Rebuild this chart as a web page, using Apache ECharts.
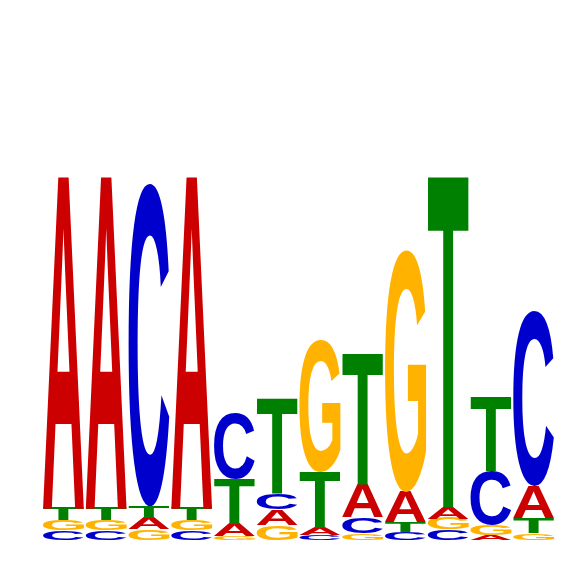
<!DOCTYPE html>
<html>
<head>
<meta charset="utf-8">
<script src="https://cdn.jsdelivr.net/npm/echarts@6/dist/echarts.min.js"></script>
<style>
html,body{margin:0;padding:0;background:#fff;}
#logo{width:566px;height:566px;}
</style>
</head>
<body>
<div id="logo"></div>
<script>
// positions of the motif
var positions = ['1','2','3','4','5','6','7','8','9','10','11','12'];
// letter heights (bits) per position
var bitsA = [1.819, 1.819, 0.062, 1.819, 0.066, 0.086, 0.038, 0.181, 0.165, 0.062, 0.027, 0.176];
var bitsC = [0.053, 0.053, 1.769, 0.053, 0.363, 0.090, 0.027, 0.088, 0.044, 0.058, 0.297, 0.962];
var bitsG = [0.055, 0.055, 0.058, 0.055, 0.022, 0.082, 0.720, 0.038, 1.324, 0.060, 0.055, 0.038];
var bitsT = [0.066, 0.066, 0.064, 0.066, 0.247, 0.516, 0.308, 0.714, 0.055, 1.813, 0.407, 0.082];

var letterColors = {A:'#CC0000', C:'#0000CC', G:'#FFB300', T:'#008000'};
var letterRgb = {A:[204,0,0], C:[0,0,204], G:[255,179,0], T:[0,128,0]};
var FONT = 'bold 500px "Liberation Sans"';

// glyph box of each letter, to stretch it into its cell
var ctx = document.createElement('canvas').getContext('2d');
ctx.font = FONT;
ctx.textAlign = 'left';
ctx.textBaseline = 'middle';
var glyphs = {};
['A','C','G','T'].forEach(function(ch){
	var m = ctx.measureText(ch);
	glyphs[ch] = {l:m.actualBoundingBoxLeft, r:m.actualBoundingBoxRight, a:m.actualBoundingBoxAscent, d:m.actualBoundingBoxDescent};
});

// stack letters, smallest at the bottom
var stackData = [], stackLetters = [];
for(var i=0;i<positions.length;i++){
	var col = [['A',bitsA[i]],['C',bitsC[i]],['G',bitsG[i]],['T',bitsT[i]]];
	col.sort(function(p,q){return p[1]-q[1];});
	var base = 0;
	col.forEach(function(p){
		stackData.push([i, base, base+p[1]]);
		stackLetters.push(p[0]);
		base += p[1];
	});
}

function letterPlace(i, lo, hi, ch, coord, w){
	var bottom = coord([i, lo]);
	var top = coord([i, hi]);
	var x0 = bottom[0]-w/2+0.5, x1 = bottom[0]+w/2-0.5;
	var y0 = top[1], y1 = bottom[1];
	var g = glyphs[ch];
	var sx = (x1-x0)/(g.l+g.r), sy = (y1-y0)/(g.a+g.d);
	return {x0:x0, x1:x1, y0:y0, y1:y1, sx:sx, sy:sy, X:x0+sx*g.l, Y:y0+sy*g.a};
}

function renderLetter(params, api){
	var ch = stackLetters[params.dataIndex];
	var p = letterPlace(api.value(0), api.value(1), api.value(2), ch, api.coord, api.size([1,0])[0]);
	return {
		type:'text',
		x: p.X,
		y: p.Y,
		scaleX: p.sx,
		scaleY: p.sy,
		style:{text:ch, x:0, y:0, font:FONT, fill:letterColors[ch], align:'left', verticalAlign:'middle'}
	};
}

var chart = echarts.init(document.getElementById('logo'));
var option = {
	animation:false,
	grid:{left:42, right:11, top:12, bottom:26},
	xAxis:{type:'category', data:positions, show:false},
	yAxis:{type:'value', min:0, max:2.9, show:false},
	series:[{
		type:'custom',
		silent:true,
		renderItem:renderLetter,
		data:stackData
	}]
};
chart.setOption(option);

// the drawn glyph differs a little from measureText: read the real top and
// bottom of the biggest copy of each letter and correct its box
function calibrate(){
	chart.getZr().refreshImmediately();
	var cv = document.querySelector('#logo canvas');
	if(!cv) return;
	var k = cv.width/566;
	var pix = cv.getContext('2d').getImageData(0,0,cv.width,cv.height).data;
	var coord = function(v){ return chart.convertToPixel({gridIndex:0}, v); };
	var w = coord([1,0])[0]-coord([0,0])[0];
	var biggest = {};
	stackData.forEach(function(d, n){
		var ch = stackLetters[n];
		if(!biggest[ch] || d[2]-d[1] > biggest[ch][2]-biggest[ch][1]) biggest[ch] = d;
	});
	var fixed = {};
	Object.keys(biggest).forEach(function(ch){
		var d = biggest[ch];
		var p = letterPlace(d[0], d[1], d[2], ch, coord, w);
		var rgb = letterRgb[ch];
		var xa = Math.round((p.x0+4)*k), xb = Math.round((p.x1-4)*k);
		var ra = Math.max(0, Math.round((p.y0-30)*k)), rb = Math.min(cv.height-1, Math.round((p.y1+30)*k));
		var first = -1, last = -1;
		for(var r=ra;r<=rb;r++){
			for(var q=xa;q<=xb;q++){
				var o = (r*cv.width+q)*4;
				if(pix[o+3]>128 && Math.abs(pix[o]-rgb[0])+Math.abs(pix[o+1]-rgb[1])+Math.abs(pix[o+2]-rgb[2])<90){
					if(first<0) first = r;
					last = r;
					break;
				}
			}
		}
		if(first<0) return;
		var top = first/k, bottom = (last+1)/k;
		fixed[ch] = {a:(p.Y-top)/p.sy, d:(bottom-p.Y)/p.sy};
	});
	Object.keys(fixed).forEach(function(ch){
		glyphs[ch].a = fixed[ch].a;
		glyphs[ch].d = fixed[ch].d;
	});
	chart.setOption(option, true);
}
calibrate();
</script>
</body>
</html>
